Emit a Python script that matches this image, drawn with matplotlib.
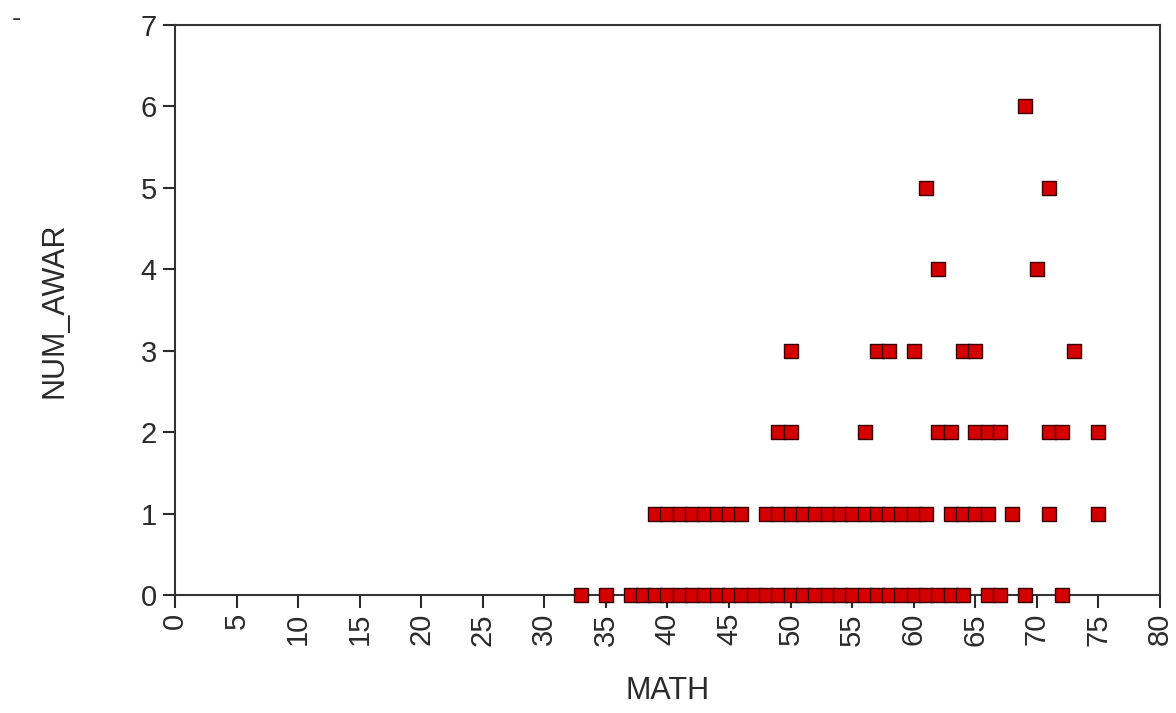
import numpy as np
import matplotlib.pyplot as plt

plt.rcParams['font.family'] = ['Liberation Sans', 'DejaVu Sans']

# MATH scores for each NUM_AWAR level
math_0 = [33, 35] + list(range(37, 65)) + [66, 67, 69, 72]
math_1 = list(range(39, 47)) + list(range(48, 62)) + [63, 64, 65, 66, 68, 71, 75]
math_2 = [49, 50, 56, 62, 63, 65, 66, 67, 71, 72, 75]
math_3 = [50, 57, 58, 60, 64, 65, 73]
math_4 = [62, 70]
math_5 = [61, 71]
math_6 = [69]

groups = [math_0, math_1, math_2, math_3, math_4, math_5, math_6]
x = np.concatenate([np.array(g, dtype=float) for g in groups])
y = np.concatenate([np.full(len(g), i, dtype=float) for i, g in enumerate(groups)])

x_ticks = list(range(0, 85, 5))
y_ticks = list(range(0, 8))

fig = plt.figure(figsize=(11.76, 7.13), dpi=100)
ax = fig.add_axes([0.1488, 0.1655, 0.8376, 0.7995])

ax.scatter(x, y, marker='s', s=105, c='#d40000', edgecolors='#3a0000',
           linewidths=1.0, zorder=3, clip_on=False)

ax.set_xlim(0, 80)
ax.set_ylim(0, 7)
ax.set_xticks(x_ticks)
ax.set_yticks(y_ticks)
ax.set_xticklabels([str(t) for t in x_ticks], rotation=90)
ax.tick_params(axis='both', direction='out', length=9, width=1.5,
               labelsize=21, colors='#2a2a2a', pad=4)
ax.tick_params(top=False, right=False)
for sp in ax.spines.values():
    sp.set_linewidth(1.5)
    sp.set_color('#333333')

ax.set_xlabel('MATH', fontsize=22, color='#2a2a2a', labelpad=22)
ax.set_ylabel('NUM_AWAR', fontsize=22, color='#2a2a2a', labelpad=51)

fig.text(0.010, 0.992, '-', fontsize=20, color='#333333', va='top')

fig.savefig('out.png', dpi=100, facecolor='white')
